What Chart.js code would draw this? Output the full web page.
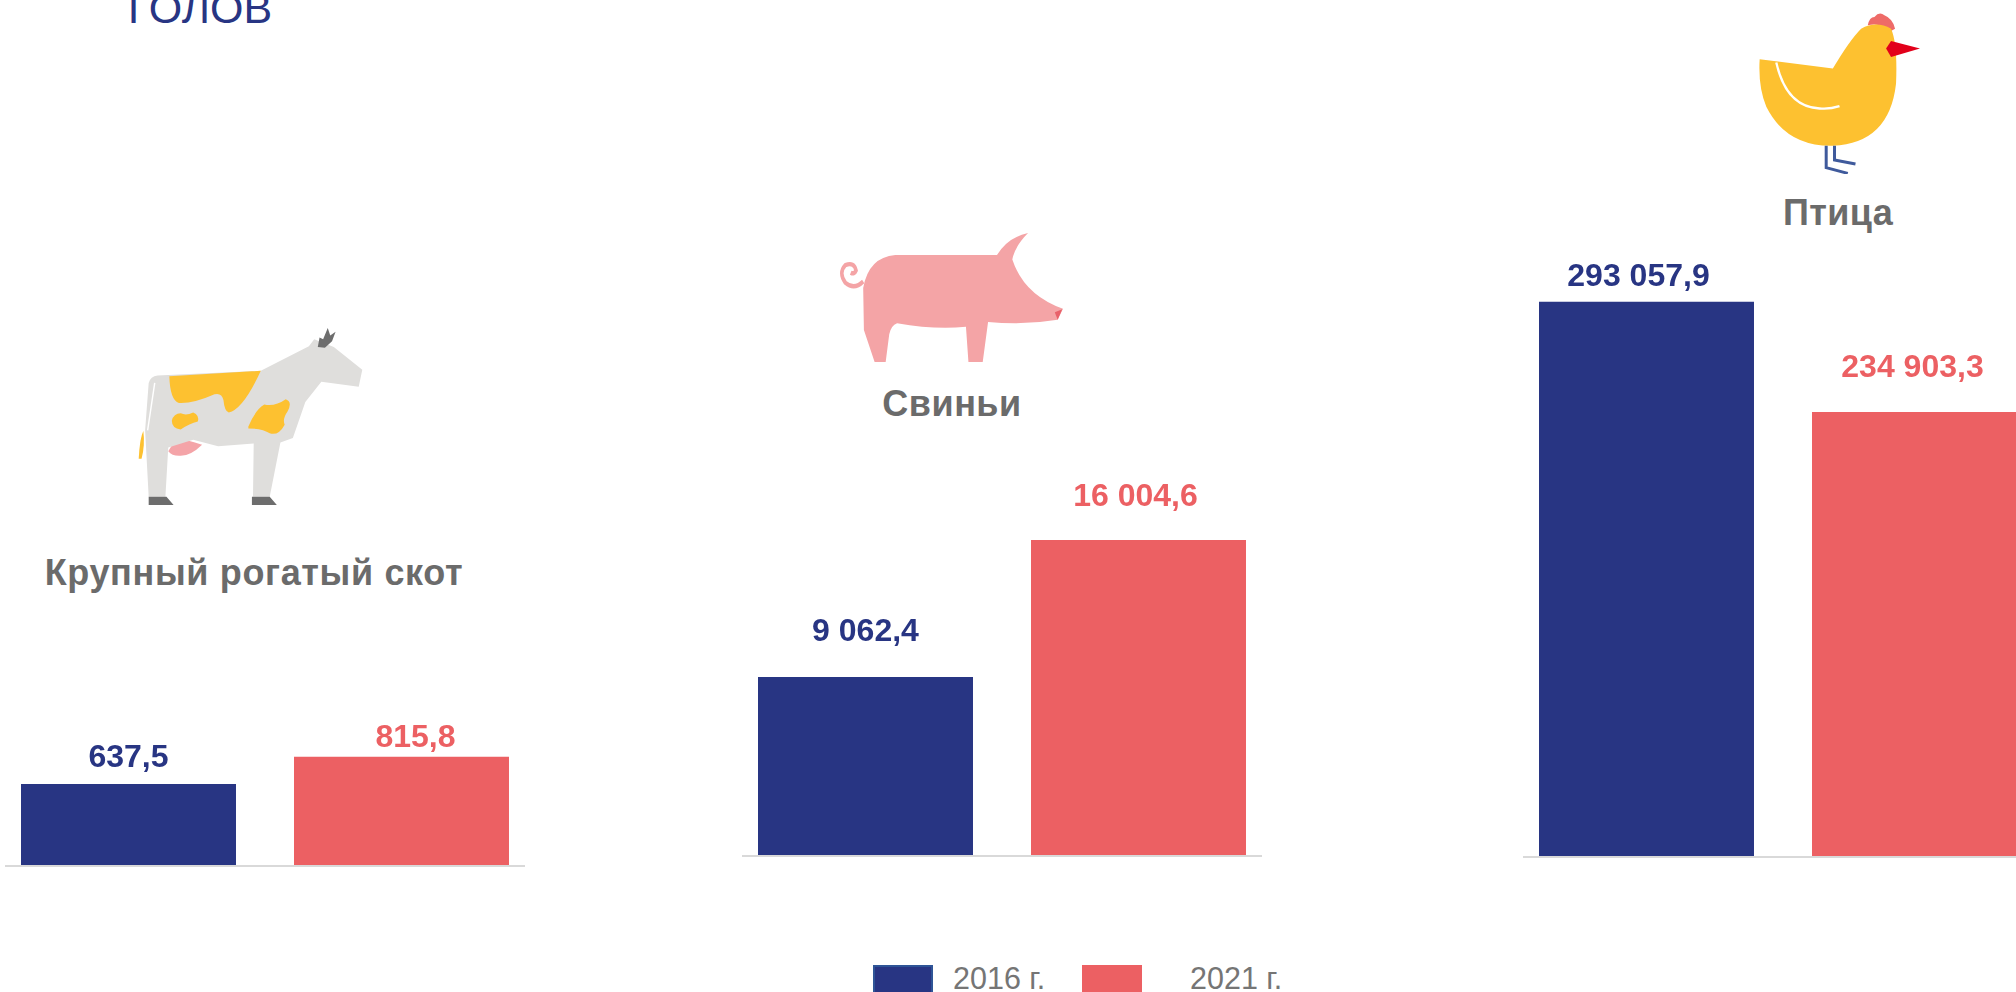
<!DOCTYPE html>
<html lang="ru">
<head>
<meta charset="utf-8">
<title>Поголовье</title>
<script src="https://cdn.jsdelivr.net/npm/chart.js@4"></script>
<style>
  html, body { margin: 0; padding: 0; background: #fff; }
  body { position: relative; width: 2016px; height: 992px; overflow: hidden; font-family: "Liberation Sans", Arial, sans-serif; }
  .box { position: absolute; }
  .titulo { position: absolute; font-weight: bold; font-size: 36px; color: #6b6b6b; white-space: nowrap; transform: translate(-50%, -50%); }
  .leyenda { position: absolute; font-size: 30.5px; color: #757575; white-space: nowrap; line-height: 32px; }
  .muestra { position: absolute; box-sizing: border-box; }
  svg { position: absolute; }
</style>
</head>
<body>

<div style="position:absolute;left:128px;top:-15px;font-size:43px;line-height:46px;color:#283583;">ГОЛОВ</div>

<!-- vaca -->
<svg style="left:138px;top:328px;width:225px;height:177px" viewBox="385 70 632 467" preserveAspectRatio="none">
  <path d="M470 395 L490 365 Q510 360 565 378 Q530 410 500 407 Q480 407 470 395Z" fill="#f4a4a8"/>
  <path d="M415 215 Q420 197 440 195 L730 183 L865 118 L880 100 L935 120 L1015 180 L1005 225 L900 212 L855 265 L820 360 L785 372 L755 515 L708 515 L710 375 L610 382 L540 365 L470 385 L462 515 L415 515 L405 340Z" fill="#dfdedc"/>
  <path d="M473 197 L730 183 Q680 285 640 293 Q628 290 625 260 Q620 240 600 245 Q540 270 500 268 Q475 260 473 197Z" fill="#fdc130"/>
  <path d="M480 315 Q485 295 505 295 Q520 302 540 293 Q558 300 553 317 Q530 322 505 338 Q480 335 480 315Z" fill="#fdc130"/>
  <path d="M695 330 Q715 285 740 272 Q770 278 800 258 Q820 265 805 290 Q790 310 797 325 Q780 355 755 348 Q735 335 695 335Z" fill="#fdc130"/>
  <path d="M387 415 Q390 360 400 342 Q405 380 395 415Z" fill="#fdc130"/>
  <path d="M432 215 L412 340" stroke="#fff" stroke-width="4" fill="none"/>
  <path d="M415 515 L465 515 L485 537 L415 537Z M705 515 L755 515 L775 537 L705 537Z" fill="#6d6d6d"/>
  <path d="M890 120 L895 95 L905 100 L918 70 L925 90 L940 80 L930 105 L910 122Z" fill="#6d6d6d"/>
</svg>

<!-- cerdo -->
<svg style="left:840px;top:233px;width:223px;height:130px" viewBox="335 55 625 295" preserveAspectRatio="none">
  <path d="M400 165 Q375 185 350 168 Q330 145 350 128 Q375 120 380 140 Q375 150 365 145" stroke="#f4a4a6" stroke-width="10" fill="none"/>
  <path d="M400 180 Q415 110 490 105 L775 105 Q805 65 862 55 Q825 85 818 115 Q850 195 960 227 L945 252 Q850 265 750 257 L735 348 L695 348 L688 268 Q600 275 495 260 Q478 265 473 285 L463 348 L432 348 L402 275Z" fill="#f4a4a6"/>
  <path d="M937 235 L958 228 L945 252Z" fill="#e8616a"/>
</svg>

<!-- gallina -->
<svg style="left:1759px;top:13px;width:161px;height:161px" viewBox="778 38 484 484" preserveAspectRatio="none">
  <path d="M1105 75 Q1110 50 1125 50 Q1140 32 1155 45 Q1180 55 1187 85 L1175 92 Q1140 65 1105 75Z" fill="#ee6b68"/>
  <path d="M780 177 L1000 205 Q1050 120 1085 85 Q1130 60 1175 85 Q1195 130 1190 250 Q1170 430 1000 437 Q860 440 800 320 Q775 260 780 177Z" fill="#fdc130"/>
  <path d="M830 187 Q860 320 960 325 Q990 328 1020 318" stroke="#fff" stroke-width="7" fill="none"/>
  <path d="M1160 145 L1175 122 L1262 145 L1175 170Z" fill="#e2001a"/>
  <path d="M980 437 L980 503 L1045 520 M1005 437 L1005 480 L1068 492" stroke="#3f5a9c" stroke-width="9" fill="none"/>
</svg>

<div class="titulo" style="left:254px;top:573px;letter-spacing:.65px">Крупный рогатый скот</div>
<div class="titulo" style="left:952px;top:404px;letter-spacing:.5px">Свиньи</div>
<div class="titulo" style="left:1838px;top:213px;letter-spacing:.4px">Птица</div>

<div class="box" style="left:5px;top:673px;width:520px;height:201px"><canvas id="graficoRes"></canvas></div>
<div class="box" style="left:742px;top:463px;width:520px;height:401px"><canvas id="graficoCerdo"></canvas></div>
<div class="box" style="left:1523px;top:264px;width:520px;height:601px"><canvas id="graficoAve"></canvas></div>

<div class="muestra" style="left:873px;top:965px;width:60px;height:30px;background:#283583;border:2px solid #2f5597"></div>
<div class="leyenda" style="left:953px;top:962px">2016 г.</div>
<div class="muestra" style="left:1082px;top:965px;width:60px;height:30px;background:#ec6063"></div>
<div class="leyenda" style="left:1190px;top:962px">2021 г.</div>

<script>
// Datos
const categorias = ['Крупный рогатый скот', 'Свиньи', 'Птица'];
const series = ['2016 г.', '2021 г.'];
const valores2016 = [637.5, 9062.4, 293057.9];
const valores2021 = [815.8, 16004.6, 234903.3];

// Limites del eje Y de cada grafico (el original no muestra ejes)
const minimosY = [100, 0, 0];
const topesY = [1365, 19900, 313000];
const idsCanvas = ['graficoRes', 'graficoCerdo', 'graficoAve'];

const AZUL = '#283583';
const ROJO = '#ec6063';

// Separacion de cada etiqueta respecto a su barra: [dx, dy]
const ajustesEtiquetas = [
    [[0, 26], [14, 19]],
    [[0, 45], [-3, 43]],
    [[-8, 25], [-7, 44]]
];

function formatear(v) {
    return v.toLocaleString('ru-RU', { minimumFractionDigits: 1, maximumFractionDigits: 1 });
}

// Plugin para escribir el valor encima de cada barra
const etiquetasBarras = {
    id: 'etiquetasBarras',
    afterDatasetsDraw(chart, args, opts) {
        const ctx = chart.ctx;
        ctx.save();
        ctx.font = 'bold 32px "Liberation Sans", Arial, sans-serif';
        ctx.textAlign = 'center';
        ctx.textBaseline = 'middle';
        chart.data.datasets.forEach((ds, i) => {
            const barra = chart.getDatasetMeta(i).data[0];
            ctx.fillStyle = ds.backgroundColor;
            ctx.fillText(formatear(ds.data[0]), barra.x + opts.ajustes[i][0], barra.y - opts.ajustes[i][1]);
        });
        ctx.restore();
    }
};

function generarGrafico(n) {
    const ctx = document.getElementById(idsCanvas[n]).getContext('2d');
    new Chart(ctx, {
        type: 'bar',
        data: {
            labels: [categorias[n]],
            datasets: [
                { label: series[0], data: [valores2016[n]], backgroundColor: AZUL },
                { label: series[1], data: [valores2021[n]], backgroundColor: ROJO }
            ]
        },
        options: {
            responsive: true,
            maintainAspectRatio: false,
            animation: false,
            categoryPercentage: 1.05,
            barPercentage: 0.7875,
            layout: { padding: 0 },
            plugins: {
                legend: { display: false },
                title: { display: false },
                tooltip: { enabled: false },
                etiquetasBarras: { ajustes: ajustesEtiquetas[n] }
            },
            scales: {
                x: {
                    grid: { display: false },
                    border: { color: '#d9d9d9', width: 2, z: 1 },
                    ticks: { display: false }
                },
                y: { display: false, min: minimosY[n], max: topesY[n] }
            }
        },
        plugins: [etiquetasBarras]
    });
}

categorias.forEach((c, n) => generarGrafico(n));
</script>
</body>
</html>
